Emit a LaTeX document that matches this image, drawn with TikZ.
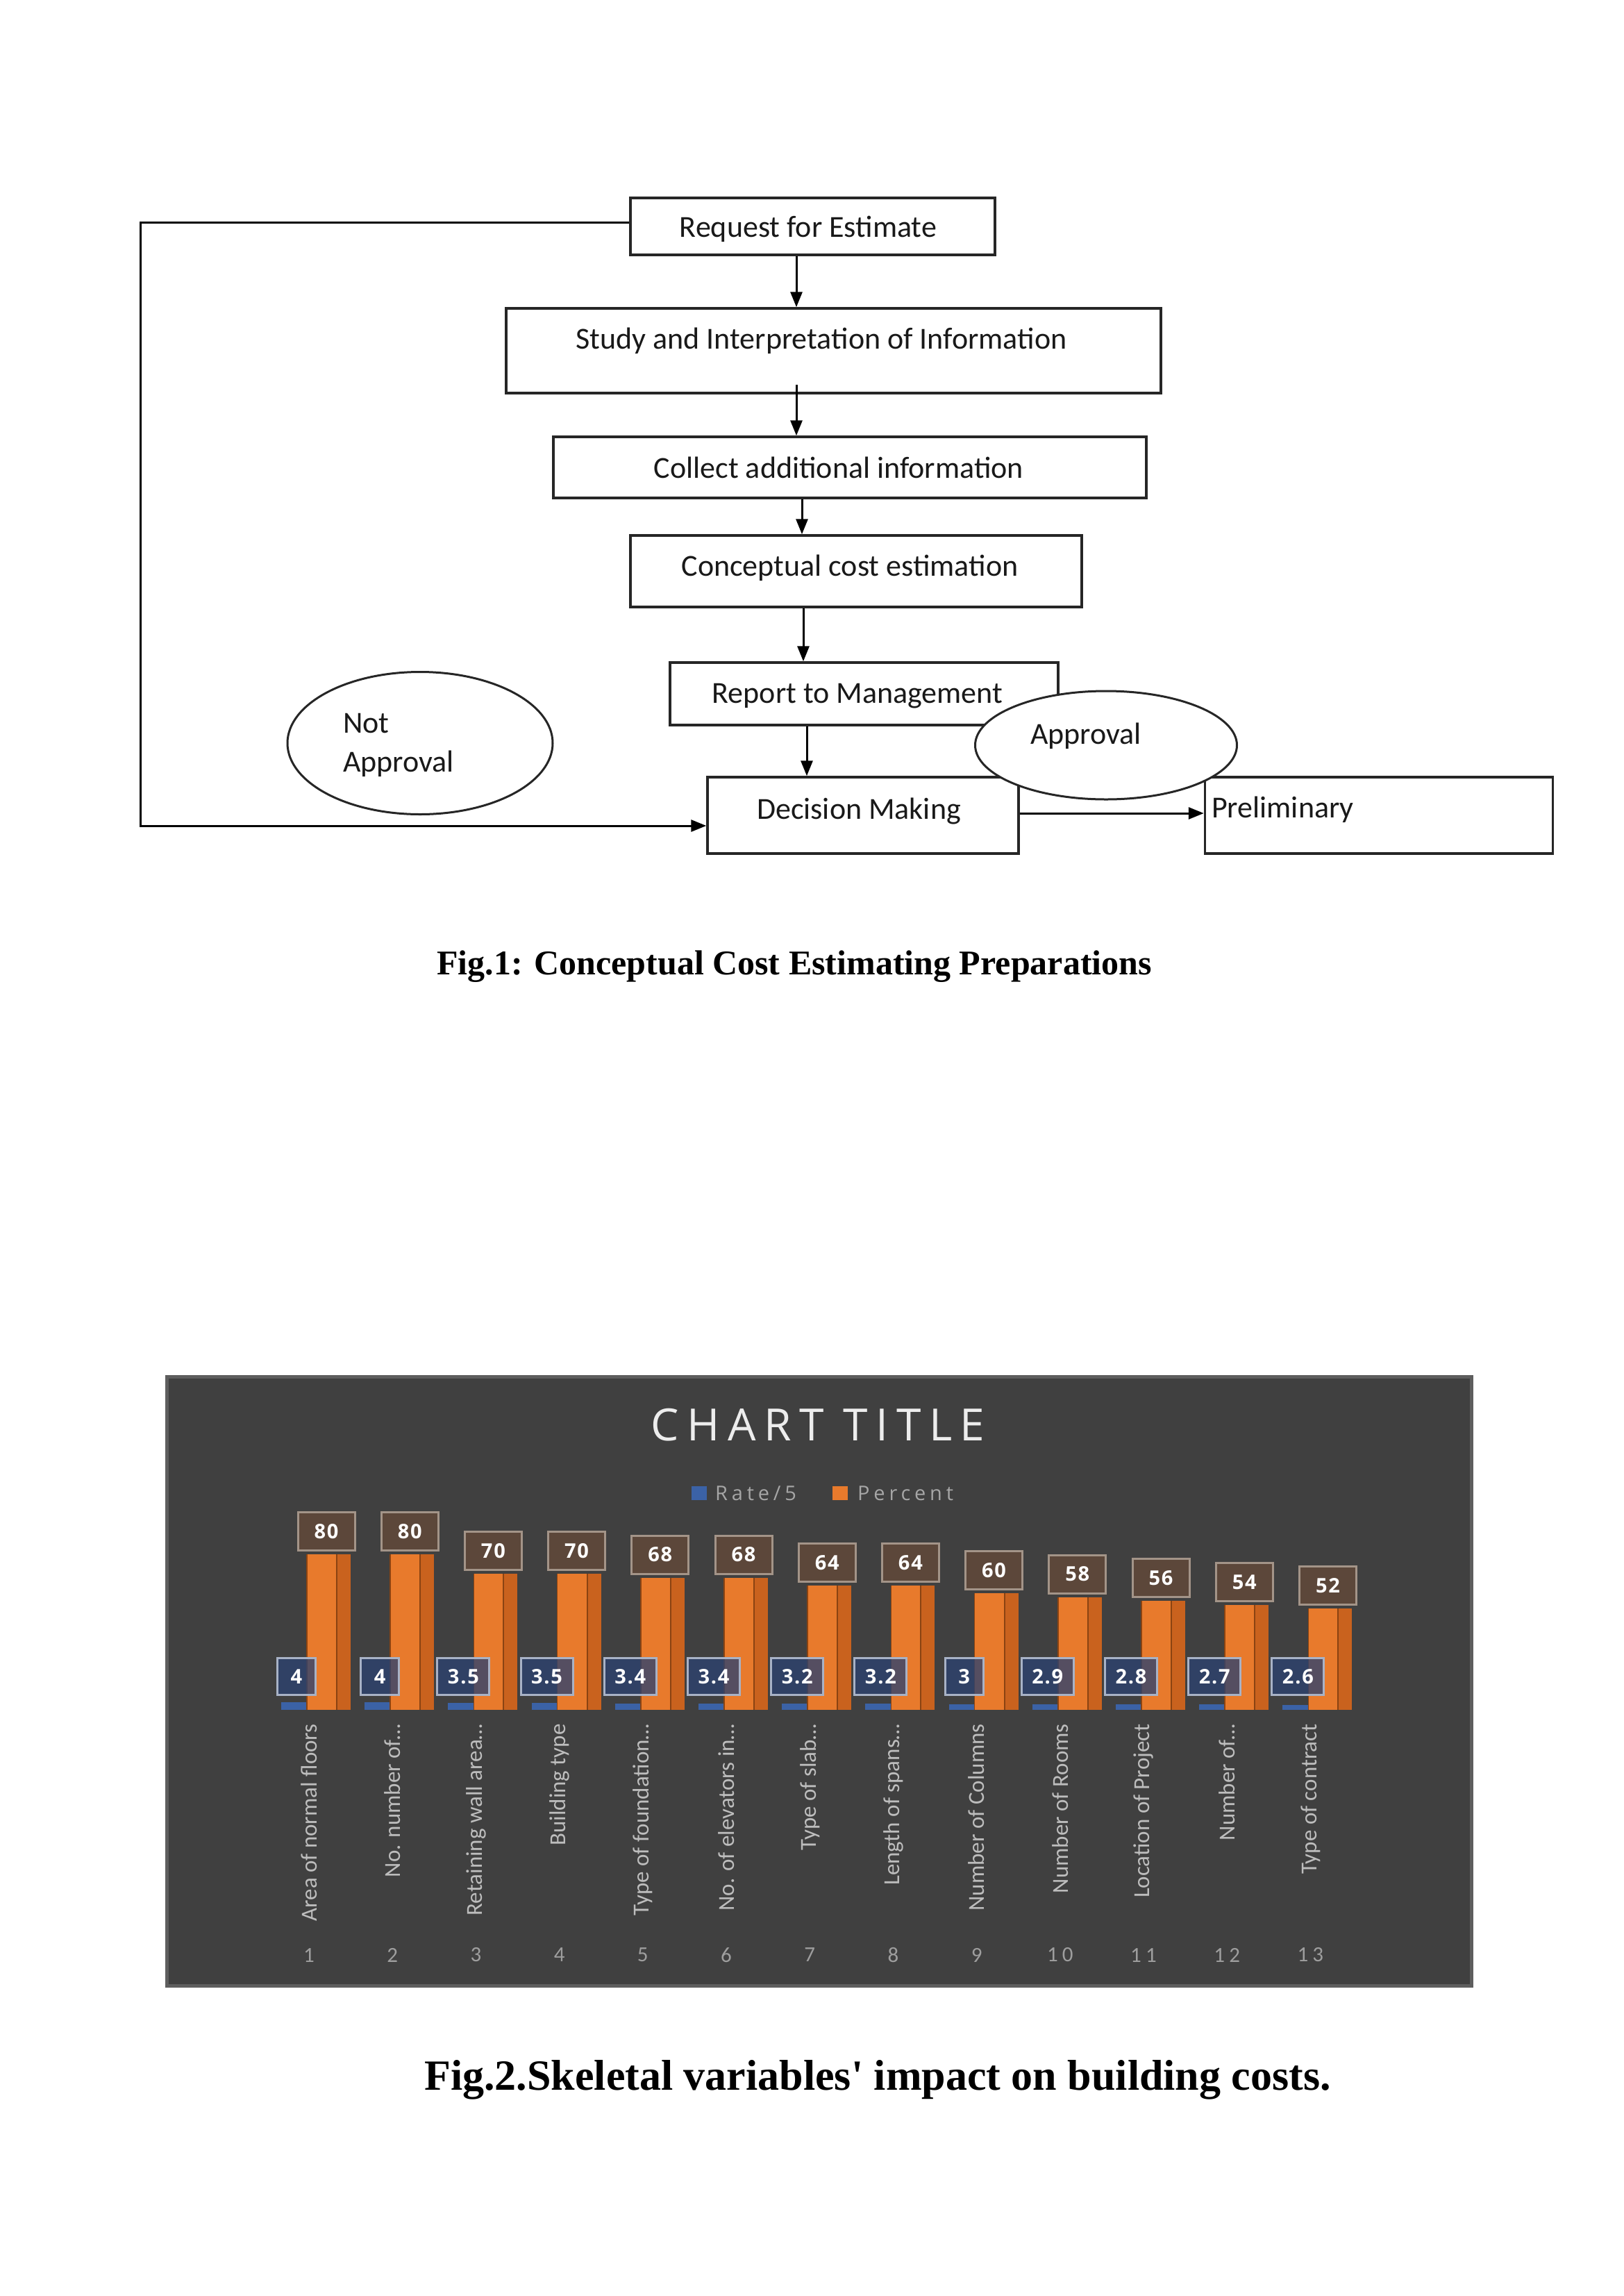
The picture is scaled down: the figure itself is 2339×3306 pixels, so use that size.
\documentclass[tikz,border=0pt]{standalone}
\usepackage{fontspec}
\usepackage{graphicx}
\setmainfont{Carlito}
\newfontfamily\capfont{Liberation Serif}
\newfontfamily\titlefont[LetterSpace=18]{Open Sans}
\newfontfamily\legfont[LetterSpace=20]{Open Sans}
\newfontfamily\datafont[LetterSpace=6]{Open Sans}
\newfontfamily\axfont{Carlito}
\newfontfamily\tickfont[LetterSpace=20]{Carlito}
\usetikzlibrary{arrows.meta,shapes.geometric}
\definecolor{chartbg}{HTML}{404040}
\definecolor{chartedge}{HTML}{5E5E5E}
\definecolor{barorange}{HTML}{E87A2C}
\definecolor{barorangeside}{HTML}{C9621E}
\definecolor{orangeedge}{HTML}{8A4312}
\definecolor{barblue}{HTML}{3B62A6}
\definecolor{pctfill}{HTML}{5C473A}
\definecolor{pctline}{HTML}{A39488}
\definecolor{ratefill}{HTML}{2C4270}
\definecolor{rateline}{HTML}{A8B2C6}
\definecolor{titlecol}{HTML}{EDEDED}
\definecolor{legcol}{HTML}{A6A6A6}
\definecolor{axcol}{HTML}{BDBDBD}
\definecolor{tickcol}{HTML}{9E9E9E}
\begin{document}
\begin{tikzpicture}[x=1pt,y=-1pt,
  box/.style={draw=black!85, line width=3.5pt, inner sep=0pt, fill=white},
  ftext/.style={font=\fontsize{44}{52}\selectfont, text=black!90, inner sep=0pt},
  arr/.style={line width=3pt, -{Triangle[length=22pt,width=17pt]}},
  oval/.style={ellipse, draw=black!85, line width=3pt, fill=white, inner sep=0pt},
  caption/.style={font=\capfont\bfseries, text=black, inner sep=0pt},
  pctbox/.style={draw=pctline, line width=3pt, fill=pctfill, text=white, font=\datafont\bfseries\fontsize{29}{32}\selectfont, minimum width=82pt, minimum height=55pt, inner sep=0pt},
  ratebox/.style={draw=rateline, line width=3pt, fill=ratefill, fill opacity=0.78, text opacity=1, text=white, font=\datafont\bfseries\fontsize{29}{32}\selectfont, minimum width=55pt, minimum height=53pt, inner xsep=15pt, inner ysep=0pt},
  axlab/.style={font=\axfont\fontsize{33}{36}\selectfont, text=axcol, inner sep=0pt},
  ticklab/.style={font=\tickfont\fontsize{31}{34}\selectfont, text=tickcol, inner sep=0pt},
  legtext/.style={font=\legfont\fontsize{29}{32}\selectfont, text=legcol, inner sep=0pt, anchor=west}
]
\useasboundingbox (0,0) rectangle (2339,3306);
\fill[white] (0,0) rectangle (2339,3306);

% ---------------- Fig. 1 flowchart ----------------
\begin{scope}[xshift=-5pt]
\node[box, minimum width=525pt, minimum height=82pt] (req) at (1175.5,326) {};
\node[box, minimum width=943pt, minimum height=122pt] (study) at (1205.5,505) {};
\node[box, minimum width=854pt, minimum height=88pt] (collect) at (1229,673) {};
\node[box, minimum width=650pt, minimum height=103pt] (concept) at (1238,822.5) {};
\node[box, minimum width=559pt, minimum height=90pt] (report) at (1249.5,999) {};
\node[box, minimum width=448pt, minimum height=110pt] (dec) at (1248,1174) {};
\node[box, minimum width=501pt, minimum height=110pt] (pre) at (1991,1174) {};

\node[ftext] (reqT) at (1169,330) {Request for Estimate};
\node[ftext] (studyT) at (1188,491) {Study and Interpretation of Information};
\node[ftext] (collectT) at (1213,673) {Collect additional information};
\node[ftext] (conceptT) at (1229,818) {Conceptual cost estimation};
\node[ftext] (reportT) at (1240,1002) {Report to Management};
\node[ftext] (decT) at (1242,1168) {Decision Making};
\node[ftext, anchor=west] (preT) at (1750,1166) {Preliminary};

\node[oval, minimum width=382pt, minimum height=205pt] (notap) at (610,1070) {};
\node[ftext, anchor=west] (notT1) at (499,1042) {Not};
\node[ftext, anchor=west] (notT2) at (499,1100) {Approval};
\node[oval, minimum width=377pt, minimum height=156pt] (ap) at (1598,1073) {};
\node[ftext] (apT) at (1569,1060) {Approval};

\coordinate (x1) at (1152,0);
\coordinate (x3) at (1160,0);
\coordinate (x4) at (1162,0);
\coordinate (x5) at (1167,0);
\coordinate (s2) at ([yshift=14pt]study.south);
\coordinate (loopx) at (207,0);
\coordinate (loopt) at (0,320);
\coordinate (loopy) at (0,1189);
\coordinate (py) at (0,1171);

\draw[arr] (req.south -| x1) -- (study.north -| x1);
\draw[arr] (s2 -| x1) -- (collect.north -| x1);
\draw[arr] (collect.south -| x3) -- (concept.north -| x3);
\draw[arr] (concept.south -| x4) -- (report.north -| x4);
\draw[arr] (report.south -| x5) -- (dec.north -| x5);
\draw[arr] (dec.east |- py) -- (pre.west |- py);
\draw[arr] (req.west |- loopt) -- (loopx |- loopt) -- (loopx |- loopy) -- (dec.west |- loopy);
\end{scope}

\node[caption, font=\capfont\bfseries\fontsize{50}{56}\selectfont] (cap1) at (1144,1392) {Fig.1: Conceptual Cost Estimating Preparations};

% ---------------- Fig. 2 chart ----------------
\fill[chartbg] (238,1980) rectangle (2122,2862);
\draw[chartedge, line width=5pt] (240.5,1982.5) rectangle (2119.5,2859.5);

\node[font=\titlefont\fontsize{64}{70}\selectfont, text=titlecol, inner sep=0pt] (ctitle) at (1178,2052) {CHART TITLE};

\fill[barblue] (996,2140) rectangle (1018,2160);
\node[legtext] (leg1) at (1030,2150) {Rate/5};
\fill[barorange] (1199,2140) rectangle (1221,2160);
\node[legtext] (leg2) at (1235,2150) {Percent};

\foreach \i/\p/\r in {1/80/4,2/80/4,3/70/3.5,4/70/3.5,5/68/3.4,6/68/3.4,7/64/3.2,8/64/3.2,9/60/3,10/58/2.9,11/56/2.8,12/54/2.7,13/52/2.6}{
  \pgfmathsetmacro\c{445+120.2*(\i-1)}
  \pgfmathsetmacro\t{2462-\p*2.8}
  \pgfmathsetmacro\b{2462-\r*2.8}
  \fill[barblue] (\c-40,\b) rectangle (\c-3,2462);
  \fill[barorange] (\c-3,\t) rectangle (\c+40,2462);
  \fill[barorangeside] (\c+40,\t) rectangle (\c+60,2462);
  \draw[orangeedge, line width=2pt] (\c+40,\t) -- (\c+40,2462);
  \draw[orangeedge, line width=1.5pt] (\c-3,\t) -- (\c-3,2462);
  \node[pctbox] (pct\i) at (\c+25,\t-33) {\p};
  \node[ratebox] (rate\i) at (\c-18,2414) {\r};
  \node[ticklab] (tick\i) at (\c,2815) {\i};
}

\foreach \i/\lab in {1/Area of normal floors,2/No. number of…,3/Retaining wall area…,4/Building type,5/Type of foundation…,6/No. of elevators in…,7/Type of slab…,8/Length of spans…,9/Number of Columns,10/Number of Rooms,11/Location of Project,12/Number of…,13/Type of contract}{
  \pgfmathsetmacro\c{445+120.2*(\i-1)}
  \node[axlab, rotate=90, anchor=east] (lab\i) at (\c,2482) {\lab};
}

\node[caption, font=\capfont\bfseries\fontsize{62}{68}\selectfont] (cap2) at (1264,2995) {Fig.2.Skeletal variables' impact on building costs.};
\end{tikzpicture}
\end{document}
